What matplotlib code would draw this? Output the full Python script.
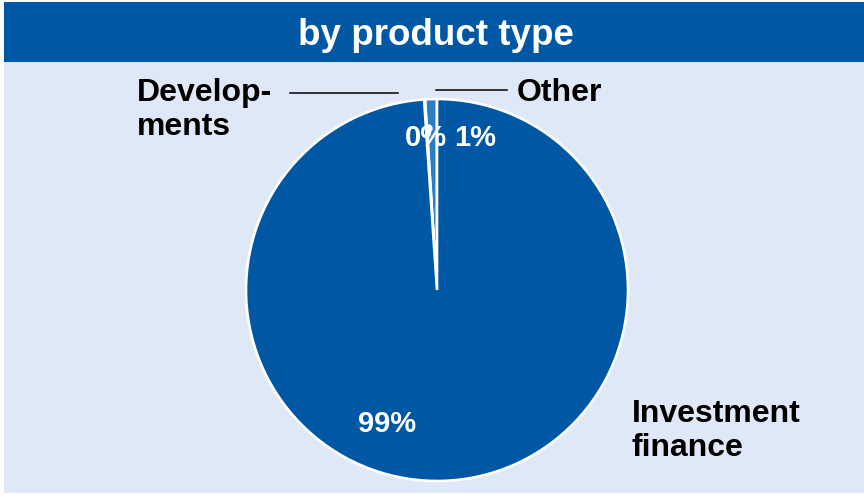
import matplotlib.pyplot as plt
from matplotlib.patches import Rectangle

plt.rcParams['font.family'] = ['Liberation Sans', 'DejaVu Sans']

# data
categories = ['Other', 'Developments', 'Investment finance']
shares = [1.0, 0.08, 98.92]
pct_labels = ['1%', '0%', '99%']
title = 'by product type'

dark_blue = '#0057a4'
mid_blue = '#2a7fc4'
bg = '#dfe8f6'

W, H = 864, 497
fig = plt.figure(figsize=(W / 100, H / 100), dpi=100, facecolor='white')
ax = fig.add_axes([0, 0, 1, 1])

def y(py):
    # pixel row from top -> axes coordinate
    return H - py

# background panel and title bar
ax.add_patch(Rectangle((4, y(493)), W - 4, 491, color=bg, lw=0))
ax.add_patch(Rectangle((4, y(62)), W - 4, 60, color=dark_blue, lw=0))
ax.text(436, y(45), title, ha='center', va='baseline', color='white',
        fontsize=26.5, fontweight='bold')

# pie
ax.pie(shares, colors=[mid_blue, mid_blue, dark_blue], startangle=90,
       counterclock=True, center=(437, y(290)), radius=191,
       wedgeprops=dict(edgecolor='white', linewidth=1.9), frame=True)
ax.set_xlim(0, W)
ax.set_ylim(0, H)
ax.axis('off')

# small marker of the 0% label
ax.plot([428], [y(128)], 'o', color='white', ms=6, mec='none')

# percent labels
ax.text(475, y(146), pct_labels[0], ha='center', va='baseline', color='white',
        fontsize=21, fontweight='bold')
ax.text(426, y(146), pct_labels[1], ha='center', va='baseline', color='white',
        fontsize=21, fontweight='bold')
ax.text(387, y(432), pct_labels[2], ha='center', va='baseline', color='white',
        fontsize=21, fontweight='bold')

# category labels
ax.text(517, y(101), categories[0], ha='left', va='baseline',
        fontsize=23, fontweight='bold')
ax.text(137, y(101), 'Develop-', ha='left', va='baseline',
        fontsize=23, fontweight='bold')
ax.text(137, y(135), 'ments', ha='left', va='baseline',
        fontsize=23, fontweight='bold')
ax.text(632, y(422), 'Investment', ha='left', va='baseline',
        fontsize=23, fontweight='bold')
ax.text(632, y(456), 'finance', ha='left', va='baseline',
        fontsize=23, fontweight='bold')

# leader lines
ax.plot([290, 398], [y(93), y(93)], color='black', lw=1.1)
ax.plot([436, 507], [y(90), y(90)], color='black', lw=1.1)

fig.savefig('out.png', dpi=100, facecolor='white')
